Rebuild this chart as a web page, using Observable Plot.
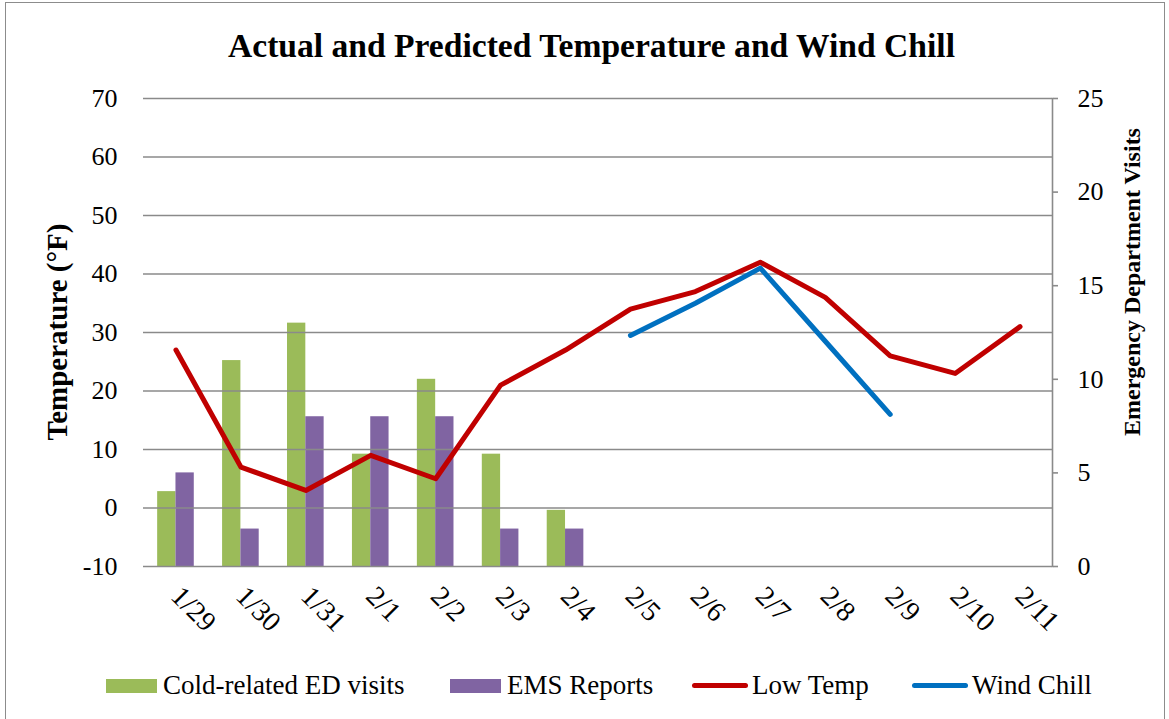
<!DOCTYPE html>
<html>
<head>
<meta charset="utf-8">
<script src="https://cdn.jsdelivr.net/npm/d3@7"></script>
<script src="https://cdn.jsdelivr.net/npm/@observablehq/plot@0.6"></script>
<style>
  html, body { margin: 0; padding: 0; background: #fff; }
  #chart { position: relative; width: 1169px; height: 719px; overflow: hidden; font-family: "Liberation Serif", serif; color: #000; }
  #border { position: absolute; left: 5px; top: 2px; width: 1160px; height: 740px; border: 1.5px solid #8c8c8c; box-sizing: border-box; }
  #title { position: absolute; left: 0; top: 29px; width: 1183px; text-align: center; font-weight: bold; font-size: 33.6px; line-height: 33px; white-space: nowrap; }
  #plot { position: absolute; left: 0; top: 0; }
  .ytitle { position: absolute; font-weight: bold; white-space: nowrap; transform: translate(-50%, -50%) rotate(-90deg); line-height: 1; }
  .leg { position: absolute; top: 672px; height: 27px; display: flex; align-items: center; font-size: 27px; line-height: 27px; white-space: nowrap; }
  .sw { display: inline-block; width: 51px; margin-right: 6px; }
</style>
</head>
<body>
<div id="chart">
  <div id="border"></div>
  <div id="plot"></div>
  <div id="title">Actual and Predicted Temperature and Wind Chill</div>
  <div class="ytitle" id="ytl" style="left:57px; top:332px; font-size:29px;">Temperature (°F)</div>
  <div class="ytitle" id="ytr" style="left:1132px; top:282px; font-size:24px;">Emergency Department Visits</div>
  <div id="legend"></div>
</div>
<script>
// ---- data ----
const dates = ["1/29","1/30","1/31","2/1","2/2","2/3","2/4","2/5","2/6","2/7","2/8","2/9","2/10","2/11"];
const edVisits = [4, 11, 13, 6, 10, 6, 3, null, null, null, null, null, null, null];
const emsReports = [5, 2, 8, 8, 8, 2, 2, null, null, null, null, null, null, null];
const lowTemp = [27, 7, 3, 9, 5, 21, 27, 34, 37, 42, 36, 26, 23, 31];
const windChill = [null, null, null, null, null, null, null, 29.5, 35, 41, 28.5, 16, null, null];
const tempTicks = [-10, 0, 10, 20, 30, 40, 50, 60, 70];
const edTicks = [0, 5, 10, 15, 20, 25];
const seriesNames = ["Cold-related ED visits", "EMS Reports", "Low Temp", "Wind Chill"];
const seriesColors = ["#9BBB59", "#8064A2", "#C00000", "#0070C0"];

// ---- layout ----
const W = 1169, H = 660, mL = 143, mR = 117, mT = 98, mB = 94;
const grid = "#8a8a8a";
const tempDomain = [-10, 70], edDomain = [0, 25];
// map the secondary (ED) axis onto the primary temperature scale
const toLeft = v => tempDomain[0] + (v - edDomain[0]) * (tempDomain[1] - tempDomain[0]) / (edDomain[1] - edDomain[0]);
const fromLeft = t => edDomain[0] + (t - tempDomain[0]) * (edDomain[1] - edDomain[0]) / (tempDomain[1] - tempDomain[0]);

const bw = (W - mL - mR) / dates.length;
const barW = bw * 0.282;

const edRows = dates.map((d, i) => ({date: d, v: edVisits[i]})).filter(r => r.v != null);
const emsRows = dates.map((d, i) => ({date: d, v: emsReports[i]})).filter(r => r.v != null);
const lowRows = dates.map((d, i) => ({date: d, v: lowTemp[i]}));
const windRows = dates.map((d, i) => ({date: d, v: windChill[i]}));

const chart = Plot.plot({
  width: W, height: H,
  marginLeft: mL, marginRight: mR, marginTop: mT, marginBottom: mB,
  style: {fontFamily: "Liberation Serif", fontSize: "24px", background: "transparent", color: "#000", overflow: "visible"},
  x: {type: "band", domain: dates, padding: 0, round: false},
  y: {domain: tempDomain},
  marks: [
    Plot.barY(edRows, {x: "date", y1: d => toLeft(0), y2: d => toLeft(d.v), fill: seriesColors[0],
      insetLeft: bw / 2 - barW, insetRight: bw / 2}),
    Plot.barY(emsRows, {x: "date", y1: d => toLeft(0), y2: d => toLeft(d.v), fill: seriesColors[1],
      insetLeft: bw / 2, insetRight: bw / 2 - barW}),
    Plot.ruleY(tempTicks, {stroke: grid, strokeWidth: 1.6}),
    Plot.frame({anchor: "right", stroke: grid, strokeWidth: 1.6}),
    Plot.axisY(tempTicks, {anchor: "left", tickSize: 0, tickPadding: 26, fontSize: 26, label: null, tickFormat: d => String(d)}),
    Plot.axisY(edTicks.map(toLeft), {anchor: "right", tickSize: 5, tickPadding: 20, fontSize: 26, stroke: grid, strokeWidth: 1.6,
      tickFormat: d => String(Math.round(fromLeft(d))), label: null}),
    Plot.axisX({tickRotate: 45, tickSize: 0, tickPadding: 25, fontSize: 28, label: null}),
    Plot.line(lowRows, {x: "date", y: "v", stroke: seriesColors[2], strokeWidth: 5, strokeLinejoin: "round", strokeLinecap: "round"}),
    Plot.line(windRows, {x: "date", y: "v", stroke: seriesColors[3], strokeWidth: 5, strokeLinejoin: "round", strokeLinecap: "round"})
  ]
});
document.getElementById("plot").appendChild(chart);

// ---- legend ----
const legLeft = [106, 450, 692, 912];
const legKind = ["rect", "rect", "line", "line"];
const legend = document.getElementById("legend");
seriesNames.forEach((name, i) => {
  const item = document.createElement("div");
  item.className = "leg";
  item.style.left = legLeft[i] + "px";
  const sw = document.createElement("span");
  sw.className = "sw";
  if (legKind[i] === "rect") {
    sw.style.height = "14px"; sw.style.background = seriesColors[i];
  } else {
    sw.style.height = "5px"; sw.style.width = "56px"; sw.style.background = seriesColors[i]; sw.style.borderRadius = "3px"; sw.style.marginRight = "4px";
  }
  item.appendChild(sw);
  const t = document.createElement("span");
  t.textContent = name;
  item.appendChild(t);
  legend.appendChild(item);
});
</script>
</body>
</html>
